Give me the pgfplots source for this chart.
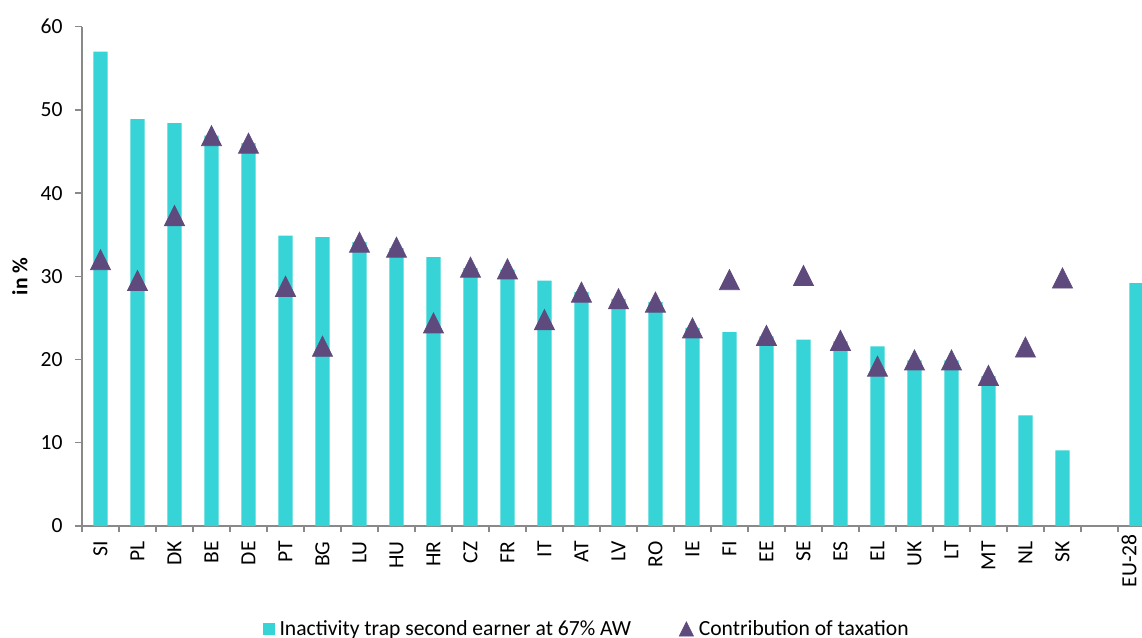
\documentclass[border=0pt]{standalone}
\usepackage{fontspec}
\setmainfont{Carlito}
\usepackage{pgfplots}
\pgfplotsset{compat=1.18}
\definecolor{barc}{HTML}{36D4D6}
\definecolor{tric}{HTML}{5E4A7D}
\definecolor{axc}{HTML}{898989}
\begin{document}
\begin{tikzpicture}[font=\fontsize{10.8}{13}\selectfont]
\begin{axis}[
  at={(0,0)}, anchor=south west,
  scale only axis, width=530pt, height=249.65pt,
  xmin=-0.5, xmax=28.15, ymin=0, ymax=60,
  axis x line*=bottom, axis y line*=left,
  axis line style={axc, line width=1pt},
  tick align=outside,
  major tick length=3.5pt,
  minor tick length=3pt,
  ytick={0,10,20,30,40,50,60},
  y tick style={axc, line width=0.7pt},
  /pgf/number format/assume math mode=true,
  yticklabel style={anchor=east, inner sep=0pt, xshift=-6pt},
  xtick={0,1,2,3,4,5,6,7,8,9,10,11,12,13,14,15,16,17,18,19,20,21,22,23,24,25,26},
  xticklabels={SI,PL,DK,BE,DE,PT,BG,LU,HU,HR,CZ,FR,IT,AT,LV,RO,IE,FI,EE,SE,ES,EL,UK,LT,MT,NL,SK},
  extra x ticks={27.8},
  extra x tick labels={EU-28},
  extra x tick style={major tick length=0pt},
  major x tick style={draw=none},
  minor xtick={-0.5,0.5,1.5,2.5,3.5,4.5,5.5,6.5,7.5,8.5,9.5,10.5,11.5,12.5,13.5,14.5,15.5,16.5,17.5,18.5,19.5,20.5,21.5,22.5,23.5,24.5,25.5,26.5,27.5},
  minor x tick style={draw=axc, line width=0.7pt},
  xticklabel style={rotate=90, anchor=east, inner sep=0pt, inner xsep=4pt},
  ylabel={\textbf{in \%}},
  ylabel style={at={(axis description cs:-0.0585,0.5)}, anchor=center},
  legend columns=2,
  legend style={at={(axis description cs:0.4778,0)}, yshift=-51.5pt, anchor=center, draw=none, fill=none,
    /tikz/every even column/.append style={column sep=21.5pt},
    nodes={inner xsep=2.5pt, inner ysep=1pt}},
]
\addplot[ybar, bar width=7.2pt, fill=barc, draw=none,
  legend image code/.code={\fill[barc] (0pt,-3pt) rectangle (5.7pt,3pt);}]
  coordinates {
  (0,57.0) (1,48.9) (2,48.4) (3,46.9) (4,46.0) (5,34.9) (6,34.7) (7,34.1) (8,33.4)
  (9,32.3) (10,31.0) (11,30.8) (12,29.5) (13,28.1) (14,27.3) (15,26.9) (16,23.8)
  (17,23.3) (18,22.8) (19,22.4) (20,22.2) (21,21.6) (22,19.9) (23,19.9) (24,18.0)
  (25,13.3) (26,9.1) (28,29.2)};
\addlegendentry{Inactivity trap second earner at 67\% AW}
\addplot[only marks, mark=triangle*, mark size=6.67pt,
  mark options={fill=tric, draw=tric, xscale=0.866, yshift=-1.67pt},
  legend image code/.code={\fill[tric] (0pt,-3.5pt) -- (7pt,-3.5pt) -- (3.5pt,3.5pt) -- cycle;}]
  coordinates {
  (0,32.0) (1,29.5) (2,37.3) (3,46.9) (4,46.0) (5,28.8) (6,21.6) (7,34.1) (8,33.5)
  (9,24.4) (10,31.1) (11,30.9) (12,24.8) (13,28.1) (14,27.3) (15,26.9) (16,23.8)
  (17,29.6) (18,22.9) (19,30.1) (20,22.3) (21,19.2) (22,19.95) (23,19.95) (24,18.1)
  (25,21.5) (26,29.8)};
\addlegendentry{Contribution of taxation}
\end{axis}
\pgfresetboundingbox
\useasboundingbox (-41pt,-56pt) rectangle (530pt,263pt);
\end{tikzpicture}
\end{document}
